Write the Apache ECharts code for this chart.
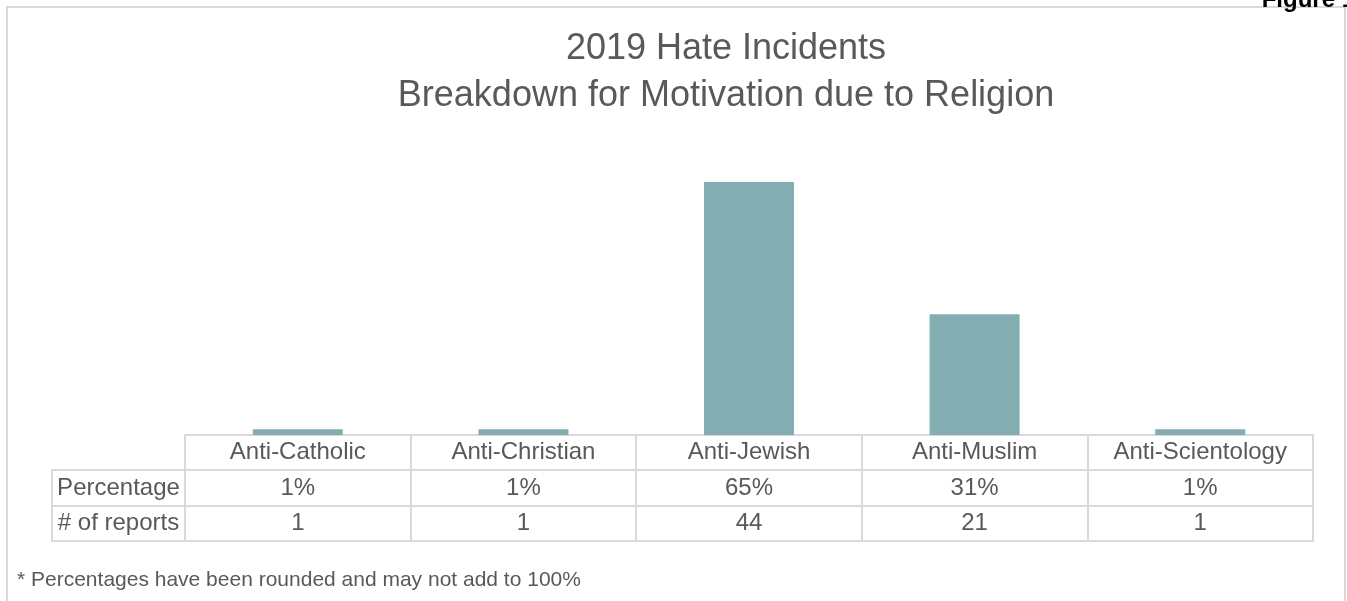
<!DOCTYPE html>
<html>
<head>
<meta charset="utf-8">
<script src="https://cdn.jsdelivr.net/npm/echarts@6/dist/echarts.min.js"></script>
<style>
html,body{margin:0;padding:0;background:#fff;}
#chart{width:1347px;height:601px;}
</style>
</head>
<body>
<div id="chart"></div>
<script>
const categories = ['Anti-Catholic', 'Anti-Christian', 'Anti-Jewish', 'Anti-Muslim', 'Anti-Scientology'];
const reports = [1, 1, 44, 21, 1];
const percentages = [1, 1, 65, 31, 1];
const rowHeaders = ['Percentage', '# of reports'];
const titleLines = ['2019 Hate Incidents', 'Breakdown for Motivation due to Religion'];
const footnote = '* Percentages have been rounded and may not add to 100%';

const FONT = 'Liberation Sans, Arial, sans-serif';
const TXT = '#595959';
const LINE = '#d9d9d9';
const FS = 24;

const gridTop = 147.5, gridBottom = 166;
const rowOff = [0, 35, 71, 106];
const rowH = [35, 36, 35];

function tableAxis(gridIndex, data, offset, tickLen, showTick, showLabel, margin) {
  return {
    type: 'category', gridIndex, position: 'bottom', offset, data,
    boundaryGap: true,
    axisLine: {show: true, onZero: false, lineStyle: {color: LINE, width: 2}},
    axisTick: {show: showTick, length: tickLen, alignWithLabel: false, lineStyle: {color: LINE, width: 2}},
    axisLabel: {show: showLabel, color: TXT, fontSize: FS, fontFamily: FONT, margin, verticalAlign: 'middle', interval: 0},
    splitLine: {show: false}
  };
}

const chart = echarts.init(document.getElementById('chart'), null, {renderer: 'canvas'});
chart.setOption({
  backgroundColor: '#fff',
  animation: false,
  title: [{
    text: titleLines.join('\n'),
    left: 726, top: 26, textAlign: 'center', padding: 0,
    textStyle: {color: TXT, fontSize: 36, fontWeight: 'normal', fontFamily: FONT, lineHeight: 47}
  }, {
    text: 'Figure 1', right: -8, top: -12, padding: 0,
    textStyle: {color: '#000', fontSize: 24, fontWeight: 'bold', fontFamily: FONT}
  }, {
    text: footnote, left: 17, top: 570, padding: 0,
    textStyle: {color: TXT, fontSize: 21, fontWeight: 'normal', fontFamily: FONT}
  }],
  graphic: [{
    type: 'rect', shape: {x: 7, y: 7, width: 1338, height: 700},
    style: {fill: 'none', stroke: LINE, lineWidth: 2}, silent: true
  }],
  grid: [
    {left: 185, right: 34, top: gridTop, bottom: gridBottom, containLabel: false},
    {left: 52, width: 133, top: gridTop, bottom: gridBottom, containLabel: false}
  ],
  xAxis: [
    tableAxis(0, categories, rowOff[0], rowH[0], true, true, 17.5),
    tableAxis(0, percentages.map(p => p + '%'), rowOff[1], rowH[1], true, true, 18),
    tableAxis(0, reports.map(String), rowOff[2], rowH[2], true, true, 17.5),
    tableAxis(0, categories.map(() => ''), rowOff[3], 0, false, false, 0),
    tableAxis(1, [rowHeaders[0]], rowOff[1], rowH[1], true, true, 18),
    tableAxis(1, [rowHeaders[1]], rowOff[2], rowH[2], true, true, 17.5),
    tableAxis(1, [''], rowOff[3], 0, false, false, 0)
  ],
  yAxis: [
    {type: 'value', gridIndex: 0, min: 0, max: 50, show: false},
    {type: 'value', gridIndex: 1, min: 0, max: 1, show: false}
  ],
  series: [{
    type: 'bar', xAxisIndex: 0, yAxisIndex: 0,
    data: reports, barWidth: 90,
    itemStyle: {color: '#84adb1'}
  }]
});
</script>
</body>
</html>
